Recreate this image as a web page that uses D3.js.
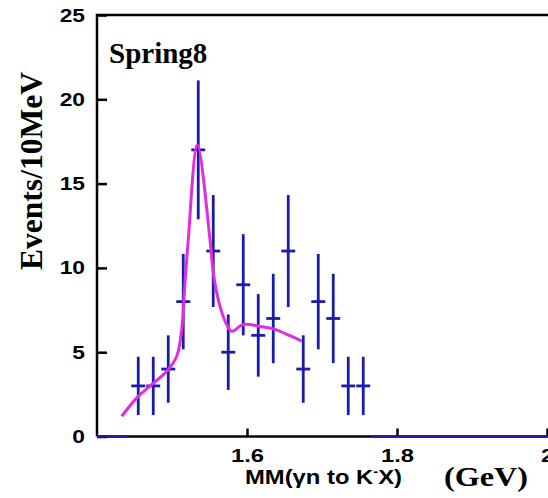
<!DOCTYPE html>
<html>
<head>
<meta charset="utf-8">
<script src="https://cdn.jsdelivr.net/npm/d3@7"></script>
<style>
  body { margin: 0; background: #fff; }
</style>
</head>
<body>
<div id="chart"></div>
<script>
// bin centres (GeV), counts and errors
const massBins = [1.455, 1.475, 1.495, 1.515, 1.535, 1.555, 1.575, 1.595, 1.615, 1.635, 1.655, 1.675, 1.695, 1.715, 1.735, 1.755];
const counts   = [3, 3, 4, 8, 17, 11, 5, 9, 6, 7, 11, 4, 8, 7, 3, 3];
const errors   = [1.73, 1.73, 2.0, 2.83, 4.12, 3.32, 2.24, 3.0, 2.45, 2.65, 3.32, 2.0, 2.83, 2.65, 1.73, 1.73];

// empty bins drawn as a blue line on the axis
const emptyRanges = [[1.40, 1.44], [1.765, 2.02]];

// fitted curve (magenta)
const fitMass   = [1.433, 1.453, 1.473, 1.493, 1.5063, 1.5129, 1.5173, 1.5217, 1.5337, 1.5507, 1.5551, 1.564, 1.5729, 1.5796, 1.5951, 1.6173, 1.6351, 1.6573, 1.6729];
const fitEvents = [1.2, 2.29, 3.08, 3.87, 4.76, 6.34, 9.11, 11.67, 17.3, 11.67, 9.7, 7.72, 6.64, 6.24, 6.64, 6.53, 6.38, 5.98, 5.65];

const xTicks = [1.6, 1.8, 2.0];
const xTickLabels = ["1.6", "1.8", "2"];
const yTicks = [0, 5, 10, 15, 20, 25];
const yTickLabels = ["0", "5", "10", "15", "20", "25"];

const width = 548, height = 498;
const blue = "#1c1caa", magenta = "#e02de4";

const svg = d3.select("#chart").append("svg")
  .attr("width", width)
  .attr("height", height);

const x = d3.scaleLinear().domain([1.4, 2.0]).range([97, 547]);
const y = d3.scaleLinear().domain([0, 25]).range([436.5, 15]);

// stretch text a bit horizontally like the scanned figure
function widen(sel, k) {
  sel.each(function() {
    const w = this.getComputedTextLength();
    d3.select(this).attr("textLength", w * k).attr("lengthAdjust", "spacingAndGlyphs");
  });
}

// y axis
const yAxis = svg.append("g")
  .attr("transform", "translate(97,0)")
  .call(d3.axisLeft(y).tickValues(yTicks).tickFormat((d, i) => yTickLabels[i])
    .tickSizeInner(-10).tickSizeOuter(0).tickPadding(12));
yAxis.select(".domain").remove();
yAxis.selectAll("line").attr("stroke", "#000").attr("stroke-width", 2.5);
yAxis.selectAll("text")
  .style("font-family", "'Liberation Sans', Arial, sans-serif")
  .style("font-weight", "bold")
  .style("font-size", "19px")
  .attr("fill", "#000")
  .call(widen, 1.2);

// x axis
const xAxis = svg.append("g")
  .attr("transform", "translate(0,436.5)")
  .call(d3.axisBottom(x).tickValues(xTicks).tickFormat((d, i) => xTickLabels[i])
    .tickSizeInner(-8).tickSizeOuter(0).tickPadding(12));
xAxis.select(".domain").remove();
xAxis.selectAll("line").attr("stroke", "#000").attr("stroke-width", 2.5);
xAxis.selectAll("text")
  .style("font-family", "'Liberation Sans', Arial, sans-serif")
  .style("font-weight", "bold")
  .style("font-size", "19px")
  .attr("fill", "#000")
  .call(widen, 1.25);

// frame: left and top, bottom axis line
svg.append("path")
  .attr("d", `M${x(1.4)},${y(0)}V${y(25)}H${width + 5}`)
  .attr("fill", "none")
  .attr("stroke", "#000")
  .attr("stroke-width", 2.5);
svg.append("line")
  .attr("x1", x(1.4)).attr("x2", width + 5)
  .attr("y1", y(0)).attr("y2", y(0))
  .attr("stroke", "#000").attr("stroke-width", 2.5);

svg.selectAll(".empty")
  .data(emptyRanges)
  .enter().append("line")
  .attr("class", "empty")
  .attr("x1", d => x(d[0])).attr("x2", d => x(d[1]))
  .attr("y1", y(0)).attr("y2", y(0))
  .attr("stroke", blue).attr("stroke-width", 2.5);

// error bars
const pts = massBins.map((m, i) => ({ m, n: counts[i], e: errors[i] }));
const bars = svg.append("g").attr("stroke", blue).attr("stroke-width", 2.8);
bars.selectAll(".vbar")
  .data(pts)
  .enter().append("line")
  .attr("x1", d => x(d.m)).attr("x2", d => x(d.m))
  .attr("y1", d => y(d.n - d.e)).attr("y2", d => y(d.n + d.e));
bars.selectAll(".hbar")
  .data(pts)
  .enter().append("line")
  .attr("x1", d => x(d.m - 0.0093)).attr("x2", d => x(d.m + 0.0093))
  .attr("y1", d => y(d.n)).attr("y2", d => y(d.n));

// fit curve
const fit = fitMass.map((m, i) => [m, fitEvents[i]]);
svg.append("path")
  .datum(fit)
  .attr("fill", "none")
  .attr("stroke", magenta)
  .attr("stroke-width", 3)
  .attr("stroke-linejoin", "round")
  .attr("d", d3.line().x(d => x(d[0])).y(d => y(d[1])).curve(d3.curveCatmullRom.alpha(0.5)));

// texts
svg.append("text")
  .attr("x", 109).attr("y", 63)
  .style("font-family", "'Liberation Serif', 'Times New Roman', serif")
  .style("font-weight", "bold")
  .style("font-size", "29px")
  .text("Spring8");

svg.append("text")
  .attr("transform", "translate(42,171) rotate(-90)")
  .attr("text-anchor", "middle")
  .style("font-family", "'Liberation Serif', 'Times New Roman', serif")
  .style("font-weight", "bold")
  .style("font-size", "32px")
  .attr("textLength", 198)
  .attr("lengthAdjust", "spacingAndGlyphs")
  .text("Events/10MeV");

const xl = svg.append("text")
  .attr("x", 245).attr("y", 484)
  .style("font-family", "'Liberation Sans', Arial, sans-serif")
  .style("font-weight", "bold")
  .style("font-size", "21px")
  .attr("textLength", 157)
  .attr("lengthAdjust", "spacingAndGlyphs");
xl.append("tspan").text("MM(\u03b3n to K");
xl.append("tspan").attr("dy", -8).style("font-size", "13px").text("-");
xl.append("tspan").attr("dy", 8).text("X)");

svg.append("text")
  .attr("x", 444).attr("y", 486)
  .style("font-family", "'Liberation Serif', 'Times New Roman', serif")
  .style("font-weight", "bold")
  .style("font-size", "28px")
  .attr("textLength", 84)
  .attr("lengthAdjust", "spacingAndGlyphs")
  .text("(GeV)");
</script>
</body>
</html>
